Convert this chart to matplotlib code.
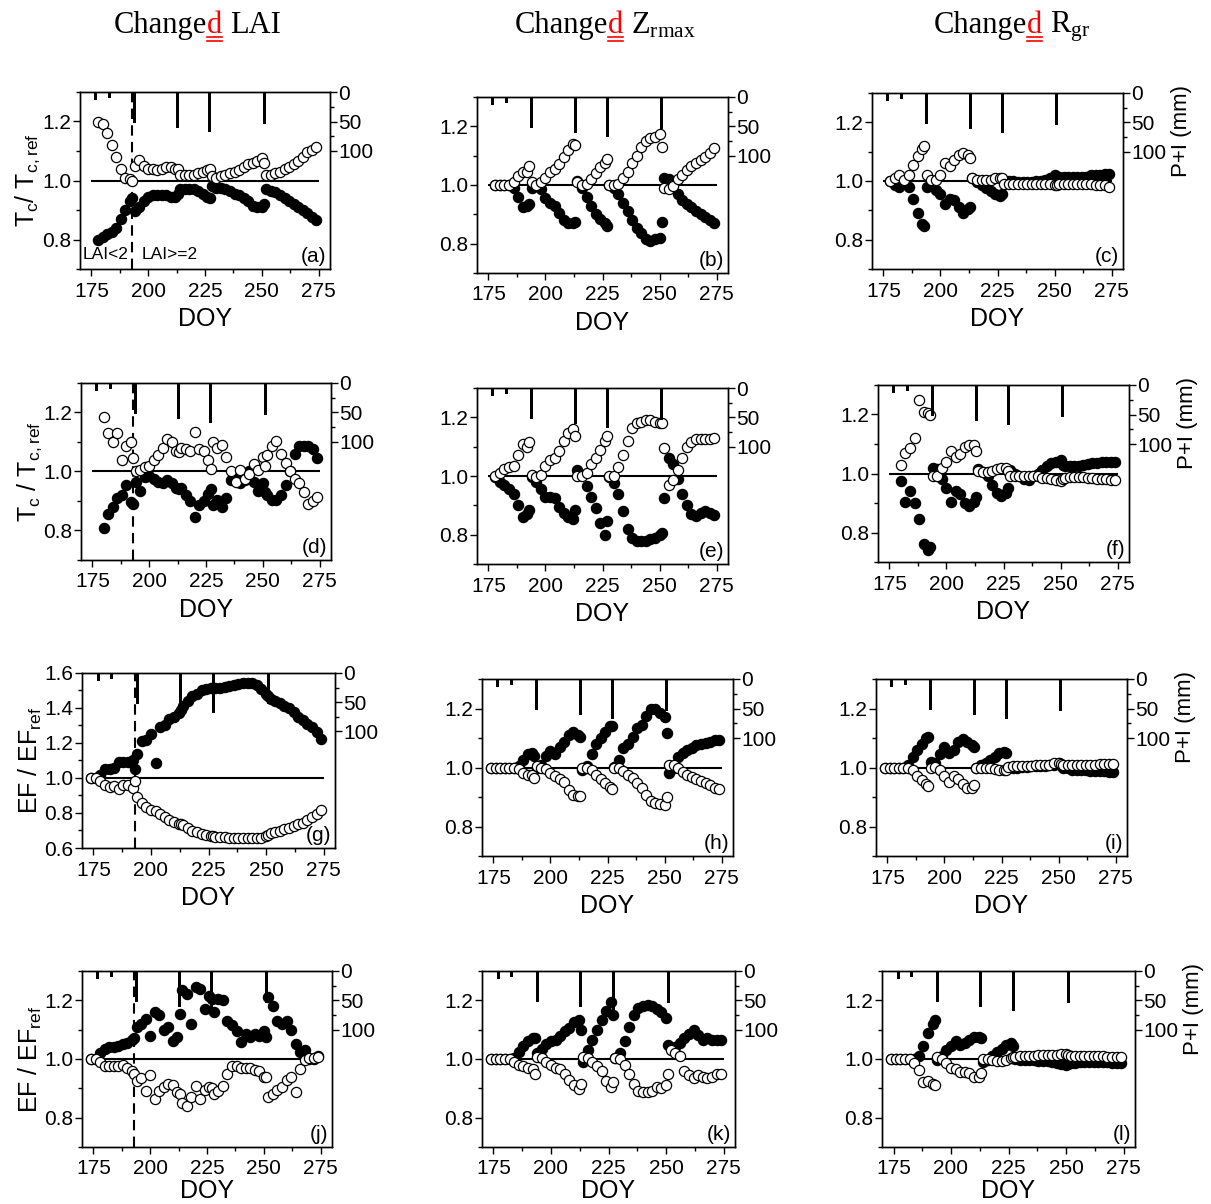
import matplotlib
matplotlib.use("Agg")
import matplotlib.pyplot as plt
import numpy as np
from matplotlib.lines import Line2D
from matplotlib.ticker import FixedLocator, FormatStrFormatter, MultipleLocator

plt.rcParams["font.family"] = ["Liberation Sans", "DejaVu Sans"]
plt.rcParams["mathtext.default"] = "regular"

W, H = 1211, 1204

# day of year grid shared by every panel (rows split at the rain events)
doy = [174, 176, 178, 180, 182, 184, 186, 188, 190, 192, 193,
       194, 196, 198, 200, 202, 204, 206, 208, 210, 212, 213,
       214, 216, 218, 220, 222, 224, 226, 227,
       228, 230, 232, 234, 236, 238, 240, 242, 244, 246, 248, 250, 251,
       252, 254, 256, 258, 260, 262, 264, 266, 268, 270, 272, 274]

precip_doy = [177, 183, 194, 203, 213, 227, 251]
precip_mm = [13, 10, 53, 2, 61, 68, 54]

a_filled = [None, None, 0.80, 0.81, 0.82, 0.825, 0.84, 0.87, 0.90, 0.93, 0.94,
            0.895, 0.91, 0.93, 0.945, 0.95, 0.95, 0.95, 0.95, 0.945, 0.945, 0.955,
            0.97, 0.97, 0.97, 0.97, 0.965, 0.955, 0.945, 0.94,
            0.98, 0.975, 0.975, 0.97, 0.965, 0.955, 0.95, 0.94, 0.93, 0.915, 0.91, 0.91, 0.92,
            0.97, 0.965, 0.96, 0.95, 0.94, 0.93, 0.92, 0.91, 0.90, 0.89, 0.875, 0.865]
a_open = [None, None, 1.20, 1.19, 1.16, 1.12, 1.08, 1.04, 1.01, 1.005, 1.00,
          1.05, 1.07, 1.05, 1.04, 1.04, 1.035, 1.04, 1.045, 1.045, 1.04, 1.04,
          1.02, 1.02, 1.02, 1.02, 1.025, 1.03, 1.035, 1.04,
          1.015, 1.01, 1.015, 1.02, 1.025, 1.03, 1.035, 1.045, 1.055, 1.06, 1.065, 1.075, 1.06,
          1.02, 1.02, 1.025, 1.03, 1.04, 1.045, 1.055, 1.065, 1.08, 1.095, 1.105, 1.115]

b_filled = [None, None, 1.0, 1.0, 1.0, 1.0, 0.99, 0.96, 0.925, 0.93, 0.935,
            0.99, 1.0, 0.985, 0.955, 0.94, 0.93, 0.905, 0.88, 0.87, 0.87, 0.875,
            1.015, 0.99, 0.96, 0.93, 0.90, 0.885, 0.87, 0.86,
            1.0, 0.99, 0.97, 0.94, 0.91, 0.88, 0.855, 0.835, 0.815, 0.81, 0.815, 0.82, 0.875,
            1.025, 1.02, 1.0, 0.97, 0.95, 0.935, 0.925, 0.91, 0.90, 0.89, 0.88, 0.87]
b_open = [None, None, 1.0, 1.0, 1.0, 1.0, 1.01, 1.03, 1.045, 1.045, 1.065,
          1.01, 1.0, 1.01, 1.025, 1.045, 1.055, 1.07, 1.095, 1.12, 1.14, 1.135,
          1.01, 1.0, 1.005, 1.02, 1.04, 1.06, 1.075, 1.09,
          1.0, 1.0, 1.005, 1.025, 1.045, 1.075, 1.10, 1.13, 1.15, 1.16, 1.165, 1.175, 1.13,
          0.99, 0.985, 0.995, 1.02, 1.035, 1.05, 1.065, 1.075, 1.085, 1.095, 1.11, 1.125]

c_filled = [None, None, 1.0, 0.985, 0.98, 0.995, 0.98, 0.94, 0.89, 0.855, 0.845,
            0.98, 0.985, 0.97, 0.955, 0.92, 0.94, 0.935, 0.91, 0.89, 0.905, 0.91,
            1.01, 0.995, 0.985, 0.975, 0.965, 0.955, 0.95, 0.955,
            1.0, 1.0, 1.0, 0.995, 0.995, 0.995, 0.995, 1.0, 1.0, 1.005, 1.01, 1.02, 1.015,
            1.015, 1.015, 1.015, 1.015, 1.015, 1.015, 1.015, 1.02, 1.02, 1.02, 1.025, 1.025]
c_open = [None, None, 1.0, 1.01, 1.02, 1.005, 1.02, 1.055, 1.085, 1.11, 1.12,
          1.02, 1.005, 1.005, 1.02, 1.06, 1.05, 1.07, 1.09, 1.095, 1.09, 1.08,
          1.01, 1.005, 1.005, 1.005, 1.005, 1.01, 1.01, 1.01,
          0.99, 0.99, 0.99, 0.99, 0.99, 0.99, 0.99, 0.99, 0.99, 0.99, 0.99, 0.985, 0.985,
          0.99, 0.99, 0.99, 0.99, 0.99, 0.99, 0.99, 0.99, 0.985, 0.985, 0.985, 0.98]

d_filled = [None, None, None, 0.81, 0.855, 0.88, 0.91, 0.92, 0.955, 0.895, 0.89,
            0.965, 0.935, 0.98, 0.985, 0.975, 0.965, 0.96, 0.97, 0.96, 0.945, 0.94,
            0.945, 0.92, 0.90, 0.845, 0.885, 0.90, 0.925, 0.94,
            0.885, 0.905, 0.88, 0.91, 0.97, 0.985, 0.96, 0.97, 1.0, 0.965, 0.935, 0.96, 0.93,
            0.92, 0.905, 0.905, 0.92, 0.955, 1.0, 1.06, 1.085, 1.085, 1.085, 1.075, 1.045]
d_open = [None, None, None, 1.185, 1.13, 1.10, 1.13, 1.04, 1.085, 1.10, 1.045,
          1.0, 1.005, 1.015, 1.02, 1.04, 1.055, 1.08, 1.11, 1.10, 1.07, 1.065,
          1.08, 1.075, 1.07, 1.135, 1.075, 1.07, 1.04, 1.01,
          1.10, 1.08, 1.09, 1.05, 1.0, 0.965, 1.005, 0.975, 0.99, 1.025, 1.005, 1.05, 1.02,
          1.055, 1.085, 1.105, 1.06, 1.03, 1.0, 0.975, 0.96, 0.93, 0.89, 0.90, 0.915]

e_filled = [None, None, 0.995, 0.98, 0.97, 0.955, 0.94, 0.90, 0.86, 0.87, 0.885,
            0.995, 0.98, 0.955, 0.93, 0.93, 0.925, 0.895, 0.875, 0.86, 0.855, 0.885,
            1.02, 1.005, 0.965, 0.93, 0.89, 0.84, 0.80, 0.845,
            0.995, 0.975, 0.94, 0.88, 0.82, 0.79, 0.78, 0.78, 0.78, 0.785, 0.79, 0.80, 0.805,
            0.925, 1.06, 1.04, 0.99, 0.94, 0.90, 0.87, 0.865, 0.875, 0.88, 0.875, 0.868]
e_open = [None, None, 1.0, 1.01, 1.025, 1.03, 1.035, 1.07, 1.11, 1.10, 1.115,
          1.005, 0.995, 1.005, 1.035, 1.055, 1.06, 1.085, 1.12, 1.145, 1.16, 1.135,
          1.0, 1.0, 1.01, 1.04, 1.06, 1.09, 1.12, 1.135,
          1.0, 1.0, 1.03, 1.07, 1.12, 1.165, 1.18, 1.185, 1.19, 1.19, 1.185, 1.18, 1.18,
          1.095, 0.97, 0.985, 1.02, 1.06, 1.10, 1.115, 1.125, 1.125, 1.125, 1.125, 1.13]

f_filled = [None, None, None, 0.975, 0.905, 0.94, 0.90, 0.845, 0.76, 0.742, 0.752,
            1.02, 1.015, 0.98, 0.95, 0.905, 0.94, 0.93, 0.90, 0.89, 0.905, 0.92,
            1.015, 1.005, 0.99, 0.96, 0.935, 0.925, 0.935, 0.95,
            1.013, 1.0, 0.99, 0.98, 0.977, 0.99, 1.0, 1.013, 1.025, 1.035, 1.04, 1.045, 1.03,
            1.025, 1.025, 1.027, 1.027, 1.03, 1.032, 1.034, 1.036, 1.04, 1.04, 1.04, 1.04]
f_open = [None, None, None, 1.03, 1.07, 1.085, 1.12, 1.25, 1.21, 1.205, 1.20,
          0.99, 0.99, 1.02, 1.04, 1.075, 1.055, 1.065, 1.09, 1.095, 1.095, 1.075,
          1.01, 1.005, 1.005, 1.01, 1.015, 1.02, 1.02, 1.01,
          0.99, 0.99, 0.99, 0.99, 0.99, 0.992, 0.99, 0.985, 0.985, 0.98, 0.978, 0.975, 0.98,
          0.985, 0.987, 0.987, 0.987, 0.987, 0.985, 0.985, 0.983, 0.98, 0.98, 0.978, 0.978]

g_filled = [1.0, 1.0, 1.02, 1.05, 1.05, 1.06, 1.09, 1.09, 1.09, 1.10, 1.05,
            1.14, 1.21, 1.22, 1.25, 1.085, 1.29, 1.30, 1.335, 1.35, 1.37, 1.39,
            1.41, 1.44, 1.47, 1.48, 1.50, 1.51, 1.515, 1.515,
            1.515, 1.515, 1.52, 1.525, 1.53, 1.535, 1.54, 1.54, 1.54, 1.53, 1.51, 1.48, 1.47,
            1.45, 1.44, 1.43, 1.41, 1.40, 1.38, 1.35, 1.33, 1.31, 1.29, 1.26, 1.225]
g_open = [1.0, 1.0, 0.985, 0.96, 0.95, 0.955, 0.94, 0.96, 0.96, 0.945, 0.985,
          0.89, 0.855, 0.835, 0.82, 0.81, 0.795, 0.775, 0.76, 0.75, 0.74, 0.735,
          0.73, 0.715, 0.70, 0.69, 0.68, 0.672, 0.668, 0.667,
          0.665, 0.663, 0.662, 0.66, 0.66, 0.657, 0.655, 0.655, 0.655, 0.657, 0.66, 0.67, 0.675,
          0.685, 0.69, 0.70, 0.707, 0.715, 0.725, 0.735, 0.745, 0.76, 0.775, 0.795, 0.815]

h_filled = [1.0, 1.0, 1.0, 1.0, 1.0, 1.0, 1.005, 1.025, 1.045, 1.05, 1.04,
            1.0, 1.01, 1.04, 1.055, 1.045, 1.07, 1.085, 1.11, 1.12, 1.11, 1.103,
            0.99, 1.005, 1.045, 1.08, 1.10, 1.12, 1.14, 1.142,
            1.003, 1.025, 1.065, 1.08, 1.105, 1.135, 1.145, 1.175, 1.197, 1.20, 1.185, 1.17, 1.117,
            0.98, 1.0, 1.035, 1.05, 1.06, 1.065, 1.075, 1.08, 1.083, 1.088, 1.092, 1.093]
h_open = [1.0, 1.0, 1.0, 1.0, 1.0, 1.0, 0.995, 0.98, 0.975, 0.975, 0.964,
          1.005, 1.0, 0.995, 0.98, 0.97, 0.962, 0.95, 0.925, 0.907, 0.903, 0.904,
          1.0, 0.998, 0.99, 0.975, 0.962, 0.946, 0.935, 0.926,
          1.0, 0.998, 0.988, 0.975, 0.965, 0.948, 0.93, 0.908, 0.886, 0.878, 0.876, 0.873, 0.90,
          1.01, 1.01, 0.998, 0.985, 0.975, 0.968, 0.96, 0.953, 0.947, 0.94, 0.932, 0.926]

i_filled = [1.0, 1.0, 1.0, 1.0, 1.0, 1.01, 1.035, 1.06, 1.08, 1.10, 1.102,
            1.02, 1.015, 1.045, 1.068, 1.05, 1.06, 1.085, 1.095, 1.088, 1.075, 1.07,
            0.997, 1.008, 1.015, 1.025, 1.037, 1.05, 1.053, 1.048,
            1.0, 1.0, 1.0, 1.002, 1.003, 1.004, 1.005, 1.005, 1.006, 1.008, 1.01, 1.014, 1.01,
            1.0, 0.997, 0.993, 0.99, 0.99, 0.99, 0.989, 0.988, 0.988, 0.987, 0.986, 0.985]
i_open = [1.0, 1.0, 1.0, 1.0, 1.0, 0.998, 0.99, 0.97, 0.958, 0.943, 0.936,
          1.0, 1.002, 0.99, 0.972, 0.952, 0.97, 0.962, 0.945, 0.93, 0.932, 0.94,
          1.0, 1.0, 0.998, 0.997, 0.995, 0.993, 0.99, 0.99,
          1.003, 1.005, 1.006, 1.006, 1.006, 1.006, 1.007, 1.008, 1.009, 1.01, 1.014, 1.016, 1.012,
          1.008, 1.007, 1.007, 1.007, 1.008, 1.009, 1.01, 1.01, 1.011, 1.012, 1.012, 1.012]

j_filled = [1.0, 1.0, 1.02, 1.035, 1.04, 1.04, 1.045, 1.05, 1.055, 1.065, 1.07,
            1.11, 1.12, 1.135, 1.08, 1.16, 1.15, 1.10, 1.11, 1.063, 1.075, 1.155,
            1.235, 1.22, 1.12, 1.245, 1.24, 1.17, 1.215, 1.205,
            1.16, 1.205, 1.20, 1.13, 1.115, 1.097, 1.057, 1.085, 1.075, 1.085, 1.08, 1.097, 1.075,
            1.21, 1.18, 1.13, 1.12, 1.13, 1.10, 1.05, 1.023, 1.03, 1.0, 1.0, 1.01]
j_open = [1.0, 1.0, 0.99, 0.975, 0.975, 0.975, 0.975, 0.98, 0.97, 0.96, 0.95,
          0.926, 0.935, 0.891, 0.945, 0.863, 0.89, 0.903, 0.914, 0.912, 0.886, 0.88,
          0.851, 0.84, 0.87, 0.909, 0.865, 0.895, 0.905, 0.90,
          0.882, 0.89, 0.909, 0.95, 0.975, 0.975, 0.97, 0.97, 0.97, 0.962, 0.96, 0.937, 0.94,
          0.869, 0.88, 0.895, 0.903, 0.93, 0.94, 0.886, 0.965, 0.995, 1.005, 1.005, 1.008]

k_filled = [1.0, 1.0, 1.0, 1.0, 1.0, 1.005, 1.025, 1.045, 1.06, 1.07, 1.07,
            1.02, 1.035, 1.05, 1.06, 1.065, 1.08, 1.095, 1.105, 1.125, 1.133, 1.10,
            0.99, 1.03, 1.065, 1.10, 1.133, 1.163, 1.194, 1.15,
            1.002, 1.02, 1.06, 1.11, 1.15, 1.173, 1.18, 1.185, 1.18, 1.17, 1.16, 1.14, 1.048,
            1.036, 1.04, 1.055, 1.07, 1.085, 1.10, 1.082, 1.065, 1.07, 1.065, 1.065, 1.065]
k_open = [1.0, 1.0, 1.0, 1.0, 1.0, 0.99, 0.98, 0.975, 0.968, 0.965, 0.95,
          1.008, 1.005, 0.99, 0.98, 0.97, 0.965, 0.95, 0.93, 0.91, 0.897, 0.915,
          1.006, 1.003, 0.99, 0.975, 0.96, 0.925, 0.906, 0.923,
          1.002, 1.0, 0.978, 0.95, 0.915, 0.89, 0.886, 0.886, 0.89, 0.905, 0.90, 0.91, 0.949,
          1.03, 1.02, 1.01, 0.96, 0.945, 0.935, 0.945, 0.94, 0.935, 0.94, 0.948, 0.948]

l_filled = [1.0, 1.0, 1.0, 1.0, 1.0, 1.0, 1.01, 1.045, 1.09, 1.12, 1.133,
            0.995, 1.01, 1.03, 1.045, 1.06, 1.048, 1.053, 1.065, 1.076, 1.075, 1.07,
            0.99, 0.995, 1.01, 1.025, 1.035, 1.048, 1.053, 1.045,
            1.0, 0.998, 0.997, 0.996, 0.995, 0.994, 0.993, 0.992, 0.99, 0.987, 0.984, 0.98, 0.983,
            0.985, 0.988, 0.99, 0.99, 0.99, 0.99, 0.99, 0.99, 0.99, 0.988, 0.988, 0.988]
l_open = [1.0, 1.0, 1.0, 1.0, 1.0, 0.985, 0.962, 0.92, 0.925, 0.915, 0.911,
          1.008, 1.0, 0.985, 0.968, 0.965, 0.957, 0.955, 0.951, 0.94, 0.94, 0.951,
          1.0, 1.0, 0.998, 0.994, 0.993, 0.995, 1.003, 1.008,
          1.008, 1.01, 1.01, 1.01, 1.011, 1.012, 1.012, 1.013, 1.014, 1.015, 1.016, 1.016, 1.014,
          1.01, 1.01, 1.01, 1.01, 1.01, 1.01, 1.01, 1.009, 1.008, 1.008, 1.007, 1.006]

tc_label_a = r"T$_\mathregular{c}$/ T$_\mathregular{c,ref}$"
tc_label_d = r"T$_\mathregular{c}$ / T$_\mathregular{c,ref}$"
ef_label = r"EF / EF$_\mathregular{ref}$"

# letter, pixel box (left, top, right, bottom), filled, open, ylim, ylabel, column
panels = [
    ("a", (80, 92, 330, 269), a_filled, a_open, (0.7, 1.3), tc_label_a, 0),
    ("b", (477, 97, 728, 273), b_filled, b_open, (0.7, 1.3), None, 1),
    ("c", (872, 93, 1123, 269), c_filled, c_open, (0.7, 1.3), None, 2),
    ("d", (81, 383, 331, 560), d_filled, d_open, (0.7, 1.3), tc_label_d, 0),
    ("e", (477, 388, 728, 564), e_filled, e_open, (0.7, 1.3), None, 1),
    ("f", (878, 385, 1129, 562), f_filled, f_open, (0.7, 1.3), None, 2),
    ("g", (82, 673, 335, 848), g_filled, g_open, (0.6, 1.6), ef_label, 0),
    ("h", (482, 679, 733, 856), h_filled, h_open, (0.7, 1.3), None, 1),
    ("i", (876, 679, 1127, 856), i_filled, i_open, (0.7, 1.3), None, 2),
    ("j", (82, 971, 332, 1147), j_filled, j_open, (0.7, 1.3), ef_label, 0),
    ("k", (482, 971, 735, 1147), k_filled, k_open, (0.7, 1.3), None, 1),
    ("l", (882, 971, 1135, 1147), l_filled, l_open, (0.7, 1.3), None, 2),
]

fig = plt.figure(figsize=(W / 100, H / 100), dpi=100)

x = np.array(doy, dtype=float)
for letter, (l, t, r, b), filled, opened, ylim, ylabel, col in panels:
    ax = fig.add_axes([l / W, 1 - b / H, (r - l) / W, (b - t) / H])
    ax.set_xlim(170, 280)
    ax.set_ylim(*ylim)
    ax.hlines(1.0, 175, 275, color="black", lw=1.5, zorder=1)
    ax.scatter(x, np.array(filled, dtype=float), s=54, facecolor="black",
               edgecolor="black", lw=0.9, zorder=3)
    ax.scatter(x, np.array(opened, dtype=float), s=54, facecolor="white",
               edgecolor="black", lw=0.9, zorder=4)
    if col == 0:
        ax.axvline(193, color="black", lw=1.5, ls=(0, (5, 3)), zorder=2)

    ax.xaxis.set_major_locator(FixedLocator([175, 200, 225, 250, 275]))
    ax.xaxis.set_minor_locator(MultipleLocator(12.5))
    ax.yaxis.set_major_locator(MultipleLocator(0.2))
    ax.yaxis.set_minor_locator(MultipleLocator(0.1))
    ax.yaxis.set_major_formatter(FormatStrFormatter("%.1f"))
    ax.tick_params(which="both", direction="out", top=False, right=False,
                   labelsize=15, width=1)
    ax.tick_params(axis="x", pad=4)
    ax.tick_params(axis="y", pad=1)
    ax.tick_params(which="major", length=5)
    ax.tick_params(which="minor", length=3)
    bottom_row = letter in ("j", "k", "l")
    ax.set_xlabel("DOY", fontsize=18, labelpad=0 if bottom_row else 5)
    for sp in ax.spines.values():
        sp.set_linewidth(1)
    if ylabel:
        ax.set_ylabel(ylabel, fontsize=18)
        ax.yaxis.set_label_coords(-0.15, 0.5)
    ax.text(0.985, 0.015, f"({letter})", transform=ax.transAxes,
            ha="right", va="bottom", fontsize=15)
    if letter == "a":
        ax.text(171.0, 0.75, "LAI<2", fontsize=12.5, va="center")
        ax.text(197.0, 0.75, "LAI>=2", fontsize=12.5, va="center")

    ax2 = ax.twinx()
    ax2.set_ylim(300, 0)
    ax2.bar(precip_doy, precip_mm, width=1.3, color="black", zorder=2)
    ax2.yaxis.set_major_locator(FixedLocator([0, 50, 100]))
    ax2.yaxis.set_minor_locator(FixedLocator([25, 75]))
    ax2.tick_params(which="both", direction="out", labelsize=15, width=1, pad=1)
    ax2.tick_params(which="major", length=5)
    ax2.tick_params(which="minor", length=3)
    for sp in ax2.spines.values():
        sp.set_linewidth(1)
    if col == 2:
        ax2.set_ylabel("P+I (mm)", fontsize=16)
        ax2.yaxis.set_label_coords(1.19, 0.785)

# column titles with red double-underlined "d"
renderer = fig.canvas.get_renderer()
serif = ["Liberation Serif", "DejaVu Serif"]
titles = [(197, "LAI"), (605, r"Z$_\mathregular{rmax}$"), (1012, r"R$_\mathregular{gr}$")]
base_y = 1 - 33 / H
for xc, rest in titles:
    parts = [("Change", "black"), ("d", "red"), (rest, "black")]
    txts = [fig.text(0, base_y, s, color=c, fontsize=22, family=serif,
                     ha="left", va="baseline") for s, c in parts]
    widths = [tt.get_window_extent(renderer).width for tt in txts]
    gap = 0.25 * 22 * 100 / 72
    total = sum(widths) + gap
    xp = xc - total / 2
    for k, (tt, w) in enumerate(zip(txts, widths)):
        tt.set_x(xp / W)
        if k == 1:
            d0, d1 = xp, xp + w
        xp += w + (gap if k == 1 else 0)
    for yy in (37, 41):
        fig.add_artist(Line2D([d0 / W, d1 / W], [1 - yy / H, 1 - yy / H],
                              color="red", lw=1.2, transform=fig.transFigure))

fig.savefig("out.png", dpi=100)
